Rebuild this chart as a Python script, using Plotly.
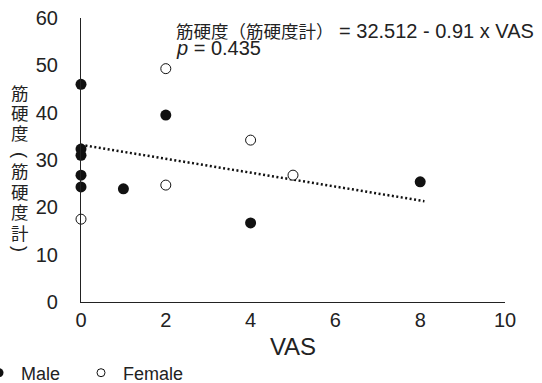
import plotly.graph_objects as go

# Data
male_vas = [0, 0, 0, 0, 0, 1, 2, 4, 8]
male_hardness = [46.0, 32.3, 31.0, 26.8, 24.3, 23.9, 39.5, 16.7, 25.4]
female_vas = [0, 2, 2, 4, 5]
female_hardness = [17.5, 49.3, 24.7, 34.2, 26.8]
trend_vas = [0, 8.1]
trend_hardness = [33.2, 21.3]

x_ticks = [0, 2, 4, 6, 8, 10]
y_ticks = [0, 10, 20, 30, 40, 50, 60]
# vertical y-axis title: characters (parentheses are drawn rotated, as in vertical writing)
y_title_chars = ["筋", "硬", "度", "(", "筋", "硬", "度", "計", ")"]

FONT = "Liberation Sans, Arial, Noto Sans CJK JP, sans-serif"
CJK = "Noto Sans CJK JP, sans-serif"
INK = "#222222"

W, H = 542, 383
ML, MR, MT, MB = 81, 37, 18, 81
PW, PH = W - ML - MR, H - MT - MB
TITLE_PY = [92, 112.5, 132.5, 155, 170, 191, 211, 232, 249]

fig = go.Figure()
fig.add_trace(go.Scatter(
    x=trend_vas, y=trend_hardness, mode="lines",
    line=dict(color="#111111", width=2.5, dash="2px,2.5px"),
    showlegend=False, hoverinfo="skip", cliponaxis=False))
fig.add_trace(go.Scatter(
    x=male_vas, y=male_hardness, mode="markers", name="Male",
    marker=dict(symbol="circle", size=11, color="#111111",
                line=dict(color="#111111", width=0)),
    cliponaxis=False, showlegend=False))
fig.add_trace(go.Scatter(
    x=female_vas, y=female_hardness, mode="markers", name="Female",
    marker=dict(symbol="circle", size=10, color="white",
                line=dict(color="#111111", width=1)),
    cliponaxis=False, showlegend=False))
# legend entries (smaller symbols, as in the reference legend)
fig.add_trace(go.Scatter(
    x=[None], y=[None], mode="markers", name="Male", legend="legend",
    marker=dict(symbol="circle", size=9, color="#111111")))
fig.add_trace(go.Scatter(
    x=[None], y=[None], mode="markers", name="Female", legend="legend2",
    marker=dict(symbol="circle", size=8, color="white",
                line=dict(color="#111111", width=1))))

legend_common = dict(orientation="h", xref="paper", yref="paper",
                     y=(H - MB - 373) / PH, xanchor="left", yanchor="middle",
                     font=dict(size=18, family=FONT, color=INK),
                     itemwidth=34, bgcolor="rgba(0,0,0,0)")

fig.update_layout(
    width=W, height=H,
    margin=dict(l=ML, r=MR, t=MT, b=MB, autoexpand=False),
    paper_bgcolor="white", plot_bgcolor="white",
    font=dict(family=FONT, color=INK, size=17),
    showlegend=True,
    legend=dict(x=(-23 - ML) / PW, **legend_common),
    legend2=dict(x=(79 - ML) / PW, **legend_common),
    xaxis=dict(range=[0, 10], tickvals=x_ticks, ticks="", showgrid=False, zeroline=False,
               showline=True, linecolor=INK, linewidth=1.2,
               tickfont=dict(size=20, family=FONT),
               title=dict(text="VAS", font=dict(size=24, family=FONT), standoff=8)),
    yaxis=dict(range=[0, 60], tickvals=y_ticks, ticks="", showgrid=False, zeroline=False,
               showline=True, linecolor=INK, linewidth=1.2,
               tickfont=dict(size=20, family=FONT), ticklabelstandoff=18),
)

# vertical (stacked) y-axis title
for ch, py in zip(y_title_chars, TITLE_PY):
    is_paren = ch in "()"
    fig.add_annotation(
        text=ch, xref="paper", yref="paper",
        x=(20 - ML) / PW, y=(H - MB - py) / PH,
        xanchor="center", yanchor="middle", showarrow=False,
        textangle=90 if is_paren else 0,
        font=dict(size=18 if is_paren else 17.5, family=CJK if not is_paren else FONT,
                  color=INK))

fig.add_annotation(
    text='<span style="font-family:Noto Sans CJK JP;font-size:17.5px">筋硬度（筋硬度計）</span> = 32.512 - 0.91 x VAS',
    xref="paper", yref="paper", x=(174 - ML) / PW, y=(H - MB - 30) / PH,
    xanchor="left", yanchor="middle",
    showarrow=False, font=dict(size=20, family=FONT, color=INK))
fig.add_annotation(
    text="<i>p</i> = 0.435",
    xref="paper", yref="paper", x=(174 - ML) / PW, y=(H - MB - 47.5) / PH,
    xanchor="left", yanchor="middle",
    showarrow=False, font=dict(size=20, family=FONT, color=INK))

fig.write_html("out.html", config={"displayModeBar": False},
               post_script="document.body.style.margin='0px';")
